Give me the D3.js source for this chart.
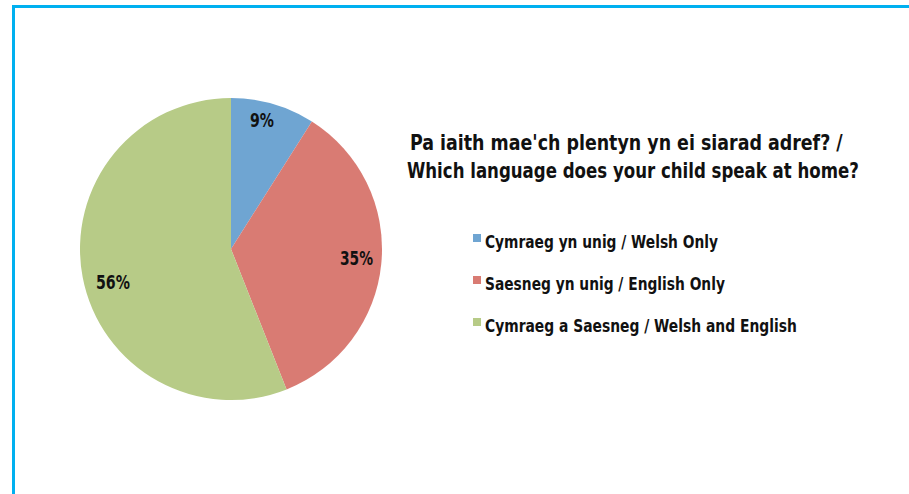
<!DOCTYPE html>
<html><head><meta charset="utf-8">
<script src="https://cdn.jsdelivr.net/npm/d3@7"></script>
<style>html,body{margin:0;padding:0;background:#fff;}svg{display:block;}</style>
</head><body>
<svg id="c" width="909" height="494"></svg>
<script>
const categories = ["Cymraeg yn unig / Welsh Only", "Saesneg yn unig / English Only", "Cymraeg a Saesneg / Welsh and English"];
const values = [9, 35, 56];
const colors = ["#6fa5d2", "#d97b73", "#b7cb87"];
const titleLines = ["Pa iaith mae'ch plentyn yn ei siarad adref? /", "Which language does your child speak at home?"];

const font = "'DejaVu Sans Condensed','Liberation Sans Narrow',sans-serif";
const svg = d3.select("#c");

// place text at (x,y) horizontally squeezed to width w
function fit(sel, x, y, w) {
  sel.each(function (d, i) {
    const t = d3.select(this);
    const len = this.getComputedTextLength();
    const xi = typeof x === "function" ? x(d, i) : x;
    const yi = typeof y === "function" ? y(d, i) : y;
    const wi = typeof w === "function" ? w(d, i) : w;
    t.attr("x", 0).attr("y", 0).attr("transform", `translate(${xi},${yi}) scale(${wi / len},1)`);
  });
}

svg.append("rect").attr("x", 13.5).attr("y", 6.5).attr("width", 1000).attr("height", 1000)
  .attr("fill", "none").attr("stroke", "#00b0f0").attr("stroke-width", 3);

const cx = 231, cy = 249, r = 151;
const pie = d3.pie().sort(null).value(d => d)(values);
const arc = d3.arc().innerRadius(0).outerRadius(r);
const g = svg.append("g").attr("transform", `translate(${cx},${cy})`);
g.selectAll("path").data(pie).join("path").attr("d", arc).attr("fill", (d, i) => colors[i]);

const total = d3.sum(values);
const labelPos = [[250, 127], [340, 265], [96, 289]];
const labelW = [24, 33, 34];
svg.selectAll("text.lbl").data(pie).join("text").attr("class", "lbl")
  .attr("font-family", font).attr("font-weight", "bold")
  .attr("font-size", 19).attr("fill", "#111")
  .text(d => Math.round(d.data / total * 100) + "%")
  .call(fit, (d, i) => labelPos[i][0], (d, i) => labelPos[i][1], (d, i) => labelW[i]);

const titleX = [410, 407], titleW = [433, 452];
svg.selectAll("text.title").data(titleLines).join("text").attr("class", "title")
  .attr("font-family", font).attr("font-weight", "bold").attr("font-size", 22).attr("fill", "#111")
  .text(d => d)
  .call(fit, (d, i) => titleX[i], (d, i) => 150 + i * 28, (d, i) => titleW[i]);

const legW = [233, 240, 312];
const leg = svg.selectAll("g.leg").data(categories).join("g").attr("class", "leg")
  .attr("transform", (d, i) => `translate(473,${248 + i * 42})`);
leg.append("rect").attr("x", 0).attr("y", -14).attr("width", 8).attr("height", 8).attr("fill", (d, i) => colors[i]);
leg.append("text")
  .attr("font-family", font).attr("font-weight", "bold")
  .attr("font-size", 18).attr("fill", "#111").text(d => d)
  .call(fit, 12, 0, (d, i) => legW[i]);
</script>
</body></html>
